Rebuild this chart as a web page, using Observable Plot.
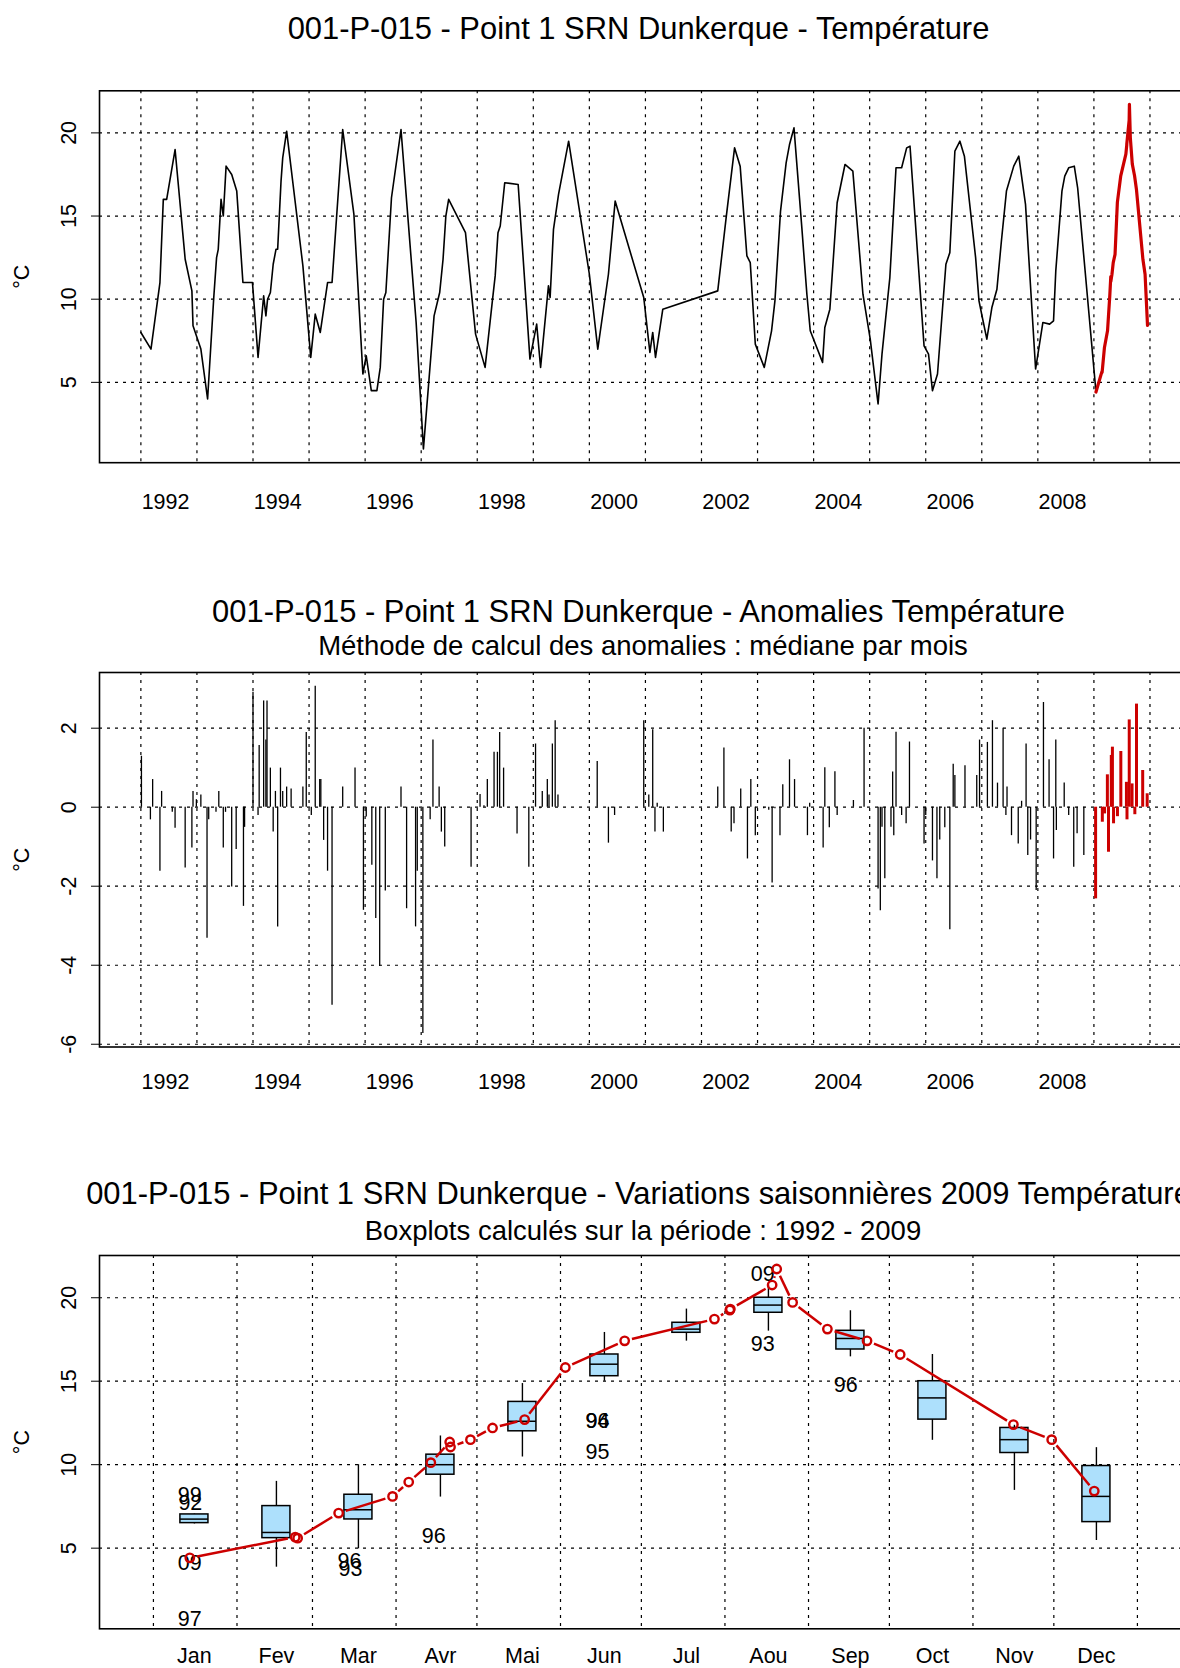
<!DOCTYPE html>
<html>
<head>
<meta charset="utf-8">
<script src="https://cdn.jsdelivr.net/npm/d3@7"></script>
<script src="https://cdn.jsdelivr.net/npm/@observablehq/plot@0.6"></script>
<style>
  html, body { margin: 0; padding: 0; background: #fff; overflow: hidden; width: 1180px; height: 1668px; }
  #page { position: relative; width: 1290px; height: 1668px; background: #fff;
          font-family: "Liberation Sans", Arial, Helvetica, sans-serif; color: #000; }
  .t { position: absolute; text-align: center; line-height: 1; white-space: nowrap; }
  .main { font-size: 30.9px; left: 0; width: 1277px; }
  .sub { font-size: 27.5px; left: 0; width: 1286px; }
</style>
</head>
<body>
<div id="page"></div>
<script>
// ---- Temperature series, station 001-P-015 (decimal year, °C), 1992-2008 ----
const tempT = [
  1992.00,1992.18,1992.34,1992.40,1992.46,1992.61,1992.79,1992.91,1992.93,
  1993.07,1993.19,1993.30,1993.35,1993.38,1993.43,1993.47,1993.52,1993.62,1993.71,1993.82,1993.99,
  1994.09,1994.19,1994.23,1994.26,1994.31,1994.36,1994.41,1994.44,1994.50,1994.53,1994.60,1994.89,
  1995.03,1995.11,1995.20,1995.33,1995.41,1995.49,1995.60,1995.80,1995.96,
  1996.02,1996.11,1996.21,1996.27,1996.33,1996.37,1996.47,1996.64,1996.91,
  1997.04,1997.23,1997.33,1997.39,1997.44,1997.49,1997.79,1997.97,
  1998.14,1998.27,1998.32,1998.37,1998.41,1998.49,1998.73,1998.94,
  1999.06,1999.13,1999.27,1999.30,1999.36,1999.45,1999.63,
  2000.00,2000.15,2000.34,2000.46,2000.97,
  2001.08,2001.13,2001.18,2001.31,
  2002.29,2002.44,2002.59,2002.69,2002.81,2002.87,2002.96,
  2003.12,2003.25,2003.31,2003.41,2003.51,2003.57,2003.65,2003.79,2003.88,2003.94,
  2004.16,2004.20,2004.29,2004.42,2004.56,2004.70,2004.88,
  2005.01,2005.15,2005.22,2005.36,2005.47,2005.57,2005.66,2005.72,2005.97,
  2006.05,2006.12,2006.21,2006.36,2006.43,2006.52,2006.61,2006.69,2006.89,2006.95,
  2007.01,2007.09,2007.18,2007.27,2007.35,2007.44,2007.57,2007.66,2007.78,2007.96,
  2008.09,2008.21,2008.28,2008.32,2008.43,2008.48,2008.55,2008.65,2008.71
];
const tempV = [
  8.0,7.0,11.0,16.0,16.0,19.0,12.4,10.5,8.4,
  7.0,4.0,10.1,12.5,13.0,16.0,15.0,18.0,17.5,16.5,11.0,11.0,
  6.5,10.2,9.0,10.0,10.4,12.1,13.0,13.0,17.1,18.5,20.1,12.0,
  6.5,9.1,8.0,11.0,11.0,14.9,20.2,15.1,5.5,
  6.6,4.5,4.5,5.9,10.0,10.4,16.1,20.2,8.6,
  1.0,9.0,10.4,12.4,15.0,16.0,14.0,7.9,
  5.9,9.9,11.4,14.0,14.4,17.0,16.9,6.4,
  8.5,5.9,10.8,10.1,14.2,16.3,19.5,
  11.5,7.0,11.5,15.9,10.1,
  6.8,8.0,6.5,9.4,
  10.5,14.9,19.1,18.0,12.6,12.2,7.3,
  5.9,8.1,9.9,15.3,18.2,19.3,20.3,14.3,10.3,8.1,
  6.2,8.3,9.4,15.8,18.1,17.7,10.3,
  7.6,3.7,6.7,11.3,17.9,17.9,19.1,19.2,7.2,
  6.7,4.5,5.5,12.1,12.8,18.9,19.5,18.6,12.5,9.9,
  8.9,7.6,9.5,10.6,13.5,16.5,18.0,18.6,15.7,5.8,
  8.6,8.5,8.7,11.7,16.5,17.4,17.9,18.0,16.7
];

// ---- 2009 samples (day of year, °C) ----
const y2009Doy = [13.5,52.6,53.5,68.7,88.7,94.7,102.9,109.9,110.2,117.6,125.8,137.7,152.8,
                  174.8,208.1,213.8,214.0,229.5,231.2,237.1,250.0,264.7,277.0,319.0,333.2,349.0];
const y2009V   = [4.42,5.66,5.60,7.10,8.10,8.96,10.12,11.36,11.06,11.50,12.20,12.70,15.82,
                  17.42,18.72,19.26,19.32,20.76,21.72,19.72,18.12,17.42,16.60,12.40,11.50,8.42];

// ---- Anomalies (sample value minus monthly median), 1992-2008 ----
const anomT = [
  1992.01,1992.17,1992.21,1992.34,1992.37,1992.56,1992.61,1992.79,1992.91,1992.93,1992.99,
  1993.07,1993.18,1993.21,1993.34,1993.39,1993.47,1993.51,1993.62,1993.70,1993.83,1993.85,
  1994.00,1994.09,1994.11,1994.19,1994.23,1994.25,1994.31,1994.36,1994.40,1994.44,1994.49,1994.53,1994.60,1994.68,1994.89,1994.95,
  1995.04,1995.11,1995.19,1995.21,1995.26,1995.33,1995.41,1995.60,1995.82,1995.97,
  1996.02,1996.12,1996.19,1996.26,1996.36,1996.64,1996.74,1996.90,1996.93,
  1997.03,1997.16,1997.21,1997.32,1997.36,1997.42,1997.89,
  1998.05,1998.12,1998.18,1998.30,1998.36,1998.40,1998.47,1998.71,1998.92,
  1999.04,1999.12,1999.16,1999.25,1999.28,1999.34,1999.39,1999.44,
  2000.14,2000.34,2000.45,2000.97,
  2001.06,2001.13,2001.17,2001.21,2001.32,
  2002.29,2002.40,2002.53,2002.58,2002.70,2002.82,2002.88,2002.96,
  2003.11,2003.20,2003.26,2003.31,2003.40,2003.45,2003.57,2003.66,2003.89,2003.93,
  2004.17,2004.20,2004.28,2004.38,2004.42,2004.71,2004.90,
  2005.15,2005.19,2005.22,2005.27,2005.38,2005.41,2005.43,2005.47,2005.57,2005.65,2005.71,2005.97,
  2006.00,2006.12,2006.20,2006.25,2006.34,2006.43,2006.49,2006.52,2006.70,2006.91,2006.96,
  2007.10,2007.19,2007.28,2007.38,2007.43,2007.45,2007.53,2007.65,2007.71,2007.79,2007.82,2007.87,2007.97,
  2008.10,2008.20,2008.28,2008.32,2008.33,2008.47,2008.55,2008.64,2008.70,2008.82
];
const anomV = [
  1.29,-0.32,0.70,-1.62,0.40,-0.13,-0.53,-1.54,-1.03,0.40,0.19,
  0.31,-3.32,-0.32,-0.13,0.40,-1.03,-0.13,-2.02,-1.07,-2.51,-0.51,
  2.91,-0.21,1.56,2.69,1.70,2.69,0.99,-0.63,0.40,-3.03,0.99,0.40,0.51,0.46,0.51,1.89,
  -0.21,3.06,0.70,0.70,-0.84,-1.62,-5.01,0.51,0.99,-2.61,
  -0.25,-1.47,-2.82,-4.03,-2.12,0.51,-2.57,-3.03,-1.62,
  -5.73,-0.32,1.70,0.51,-0.63,-1.01,-1.52,
  0.32,0.04,0.70,1.39,1.39,1.89,0.99,-0.68,-1.52,
  1.60,-0.04,0.40,0.70,0.31,1.60,2.19,0.31,
  1.16,-0.91,-0.21,2.19,
  0.31,1.96,-0.63,0.10,-0.63,
  0.51,1.50,-0.63,-0.42,0.46,-1.31,0.70,-0.72,
  -0.04,-0.08,-1.92,-0.04,-0.72,0.57,1.20,0.70,-0.72,0.10,
  -1.03,1.00,-0.52,0.90,-0.21,0.17,2.00,
  -2.07,-2.62,-0.51,-1.81,-0.51,0.89,-0.72,1.90,-0.21,-0.42,1.65,-0.93,
  -0.21,-1.36,-1.81,-0.83,-0.52,-3.10,1.09,0.80,1.05,0.80,1.70,
  1.64,2.19,0.61,2.00,-0.21,0.51,-0.72,-0.93,0.15,1.60,-1.22,-0.83,-2.11,
  2.65,1.20,-1.31,1.70,-0.59,0.61,-0.21,-1.52,-0.67,-1.22
];
// 2009 anomalies
const anom09T = [2009.03,2009.15,2009.19,2009.24,2009.26,2009.31,2009.33,2009.35,2009.42,
                 2009.48,2009.58,2009.59,2009.63,2009.68,2009.73,2009.76,2009.87,2009.95];
const anom09V = [-2.32,-0.38,-0.17,0.82,-1.14,1.31,1.52,-0.42,-0.24,
                 1.41,0.63,-0.32,2.21,0.59,-0.19,2.61,0.93,0.34];

// ---- Monthly boxplots 1992-2009 ----
const months = ["Jan","Fev","Mar","Avr","Mai","Jun","Jul","Aou","Sep","Oct","Nov","Dec"];
const boxLo  = [6.45,3.86,4.96,8.06,10.46,15.0,17.4,18.0,16.46,11.46,8.46,5.46];
const boxQ1  = [6.50,5.60,6.72,9.40,12.0,15.3,17.9,19.1,16.9,12.7,10.7,6.56];
const boxMed = [6.74,5.94,7.30,10.0,12.6,16.02,18.12,19.56,17.56,14.0,11.5,8.1];
const boxQ3  = [7.02,7.52,8.20,10.6,13.76,16.6,18.5,20.0,18.02,15.0,12.2,9.92];
const boxHi  = [7.05,9.00,10.0,11.72,14.86,17.92,19.32,20.72,19.22,16.6,12.36,11.02];
// outliers labelled with their year
const outLabel = ["99","92","09","97","96","93","96","94","96","95","09","93","96"];
const outDoy   = [13.5,13.7,13.5,13.5,72.7,73.1,104,164.7,164.7,164.7,226,226,256.8];
const outV     = [8.45,7.95,4.4,1.0,4.5,4.0,6.0,12.9,12.9,11.0,21.7,17.5,15.05];
// first day of each month (day of year), and next 1 January
const monthStartDoy = [0,31,59,90,120,151,181,212,243,273,304,334,365];

// ---- Axis ticks ----
const yearLabels = [1992,1994,1996,1998,2000,2002,2004,2006,2008];
const gridYears = d3.range(1992, 2011);
const tempTicks = [5,10,15,20];
const anomTicks = [-6,-4,-2,0,2];

// ---- Layout ----
const W = 1260, ML = 99, FRAME_RIGHT = 1187.6;
const MR = W - FRAME_RIGHT;
const FRAME_W = FRAME_RIGHT - ML;
const RED = "#CC0000";
const FONT = '"Liberation Sans", Arial, Helvetica, sans-serif';
const FS = 21.5;
const GRID = {stroke: "black", strokeWidth: 1.2, strokeDasharray: "3,5"};
const TIME_DOMAIN = [1991.262, 2010.68];
const TEMP_DOMAIN = [0.17, 22.53];
const LABEL_SHIFT = 0.44; // year labels sit a little after 1 January

const page = document.getElementById("page");

function addPanel({top, frameTop, frameH, marginBottom, x, y, marks}) {
  const marginTop = frameTop - top;
  const svg = Plot.plot({
    width: W,
    height: marginTop + frameH + marginBottom,
    marginLeft: ML, marginRight: MR, marginTop, marginBottom,
    style: {fontFamily: FONT, fontSize: FS + "px", color: "black", background: "transparent", overflow: "visible"},
    x, y, marks
  });
  svg.style.position = "absolute";
  svg.style.left = "0px";
  svg.style.top = top + "px";
  page.appendChild(svg);
}

function addTitle(text, cls, centerY) {
  const fs = cls === "main" ? 30.9 : 27.5;
  const d = document.createElement("div");
  d.className = "t " + cls;
  d.textContent = text;
  d.style.top = (centerY - 0.49 * fs) + "px";
  page.appendChild(d);
}

function yAxisMarks(ticks) {
  return [
    Plot.text(ticks, {y: d => d, text: d => String(d), frameAnchor: "left", dx: -30,
                      rotate: -90, textAnchor: "middle", lineAnchor: "middle", fontSize: FS}),
    Plot.text(["°C"], {text: d => d, frameAnchor: "left", dx: -77,
                       rotate: -90, textAnchor: "middle", lineAnchor: "middle", fontSize: FS})
  ];
}

// ---- Panel 1: temperature time series ----
const temp = tempT.map((t, i) => ({t, v: tempV[i]}));
const temp09 = y2009Doy.map((d, i) => ({t: 2009 + d / 365, v: y2009V[i]}));
const tempBlack = temp.concat([temp09[0]]);

addPanel({
  top: 60, frameTop: 90.3, frameH: 371.9, marginBottom: 60,
  x: {domain: TIME_DOMAIN, axis: null},
  y: {domain: TEMP_DOMAIN, axis: "left", ticks: tempTicks, tickSize: 8, tickFormat: () => "", label: null},
  marks: [
    Plot.ruleY(tempTicks, GRID),
    Plot.ruleX(gridYears, GRID),
    Plot.line(tempBlack, {x: "t", y: "v", stroke: "black", strokeWidth: 1.6}),
    Plot.line(temp09, {x: "t", y: "v", stroke: RED, strokeWidth: 3.2}),
    Plot.frame({stroke: "black", strokeWidth: 1.6}),
    Plot.text(yearLabels, {x: d => d + LABEL_SHIFT, text: d => String(d), frameAnchor: "bottom",
                           dy: 39.5, lineAnchor: "middle", fontSize: FS}),
    ...yAxisMarks(tempTicks)
  ]
});

// ---- Panel 2: anomalies ----
const anom = anomT.map((t, i) => ({t, v: anomV[i]}));
const anom09 = anom09T.map((t, i) => ({t, v: anom09V[i]}));

addPanel({
  top: 660, frameTop: 672, frameH: 374.5, marginBottom: 60,
  x: {domain: TIME_DOMAIN, axis: null},
  y: {domain: [-6.07, 3.41], axis: "left", ticks: anomTicks, tickSize: 8, tickFormat: () => "", label: null},
  marks: [
    Plot.ruleY(anomTicks, GRID),
    Plot.ruleX(gridYears, GRID),
    Plot.ruleX(anom, {x: "t", y1: 0, y2: "v", stroke: "black", strokeWidth: 1.3}),
    Plot.ruleX(anom09, {x: "t", y1: 0, y2: "v", stroke: RED, strokeWidth: 3}),
    Plot.frame({stroke: "black", strokeWidth: 1.6}),
    Plot.text(yearLabels, {x: d => d + LABEL_SHIFT, text: d => String(d), frameAnchor: "bottom",
                           dy: 35.5, lineAnchor: "middle", fontSize: FS}),
    ...yAxisMarks(anomTicks)
  ]
});

// ---- Panel 3: seasonal boxplots with 2009 overlay ----
const DOY_DOMAIN = [-20, 383.8];
const BOT_FRAME_H = 373.3;
const BOX_HALF = 5.2; // half box width, days
const boxes = months.map((m, i) => ({
  m, c: (i + 0.5) * 365 / 12,
  lo: boxLo[i], q1: boxQ1[i], med: boxMed[i], q3: boxQ3[i], hi: boxHi[i]
}));
const pts09 = y2009Doy.map((d, i) => ({d, v: y2009V[i]}));
const outliers = outLabel.map((l, i) => ({l, d: outDoy[i], v: outV[i]}));

// connecting segments leave a gap around each point (line-and-point style)
const kx = FRAME_W / (DOY_DOMAIN[1] - DOY_DOMAIN[0]);
const ky = BOT_FRAME_H / (TEMP_DOMAIN[1] - TEMP_DOMAIN[0]);
const GAP = 7.5;
const segs = [];
for (let i = 0; i < pts09.length - 1; i++) {
  const a = pts09[i], b = pts09[i + 1];
  const L = Math.hypot((b.d - a.d) * kx, (b.v - a.v) * ky);
  if (L <= 2 * GAP) continue;
  const f = GAP / L;
  segs.push({
    x1: a.d + f * (b.d - a.d), y1: a.v + f * (b.v - a.v),
    x2: b.d - f * (b.d - a.d), y2: b.v - f * (b.v - a.v)
  });
}

addPanel({
  top: 1235, frameTop: 1255, frameH: BOT_FRAME_H, marginBottom: 45,
  x: {domain: DOY_DOMAIN, axis: null},
  y: {domain: TEMP_DOMAIN, axis: "left", ticks: tempTicks, tickSize: 8, tickFormat: () => "", label: null},
  marks: [
    Plot.ruleY(tempTicks, GRID),
    Plot.ruleX(monthStartDoy, GRID),
    Plot.ruleX(boxes, {x: "c", y1: "lo", y2: "q1", stroke: "black", strokeWidth: 1.4}),
    Plot.ruleX(boxes, {x: "c", y1: "q3", y2: "hi", stroke: "black", strokeWidth: 1.4}),
    Plot.rect(boxes, {x1: d => d.c - BOX_HALF, x2: d => d.c + BOX_HALF, y1: "q1", y2: "q3",
                      fill: "#ADE0FC", stroke: "black", strokeWidth: 1.5}),
    Plot.ruleY(boxes, {y: "med", x1: d => d.c - BOX_HALF, x2: d => d.c + BOX_HALF,
                       stroke: "black", strokeWidth: 1.5}),
    Plot.text(outliers, {x: "d", y: "v", text: "l", dy: 4.5, lineAnchor: "middle", fontSize: FS}),
    Plot.link(segs, {x1: "x1", y1: "y1", x2: "x2", y2: "y2", stroke: RED, strokeWidth: 2.5}),
    Plot.dot(pts09, {x: "d", y: "v", r: 4.2, stroke: RED, strokeWidth: 2.4, fill: "none"}),
    Plot.frame({stroke: "black", strokeWidth: 1.6}),
    Plot.text(boxes, {x: "c", text: "m", frameAnchor: "bottom", dy: 27.5, lineAnchor: "middle", fontSize: FS}),
    ...yAxisMarks(tempTicks)
  ]
});

// ---- Titles ----
addTitle("001-P-015 - Point 1 SRN Dunkerque - Température", "main", 28.7);
addTitle("001-P-015 - Point 1 SRN Dunkerque - Anomalies Température", "main", 611.8);
addTitle("Méthode de calcul des anomalies : médiane par mois", "sub", 645.8);
addTitle("001-P-015 - Point 1 SRN Dunkerque - Variations saisonnières 2009 Température", "main", 1193.8);
addTitle("Boxplots calculés sur la période : 1992 - 2009", "sub", 1230);
</script>
</body>
</html>
